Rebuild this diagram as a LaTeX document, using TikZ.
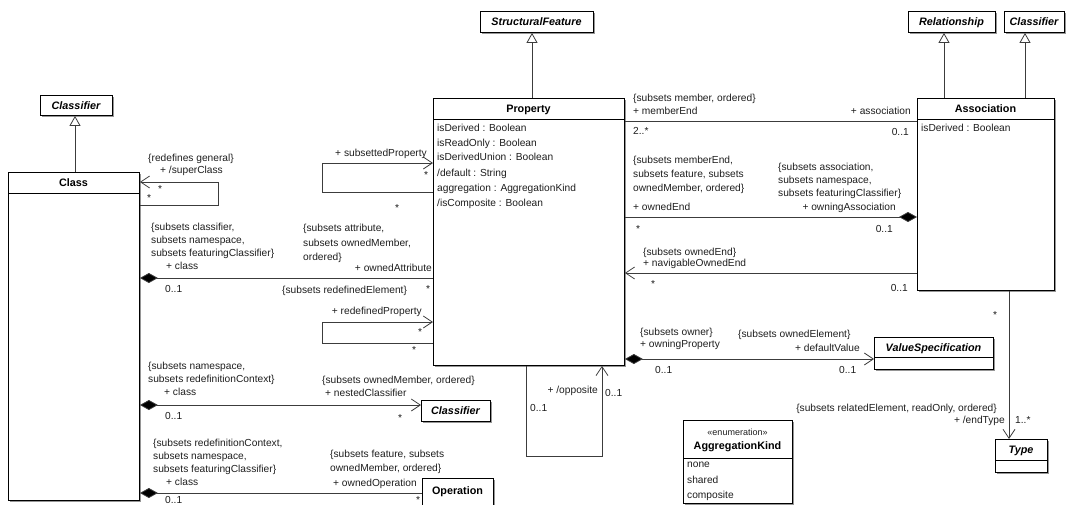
\documentclass[tikz,border=0pt]{standalone}
\usepackage{fontspec}
\setmainfont{Liberation Sans}
\usetikzlibrary{arrows.meta,shadows}

\begin{document}
\begin{tikzpicture}[x=1pt,y=-1pt,
  umlbox/.style={draw=boxcolor,fill=fillcolor,line width=0.9pt,inner sep=0pt,anchor=north west,
    drop shadow={shadow xshift=1.5pt,shadow yshift=-1.5pt,fill=shadowcolor,opacity=1}},
  boxname/.style={inner sep=0pt,anchor=base,text=boxcolor,font=\fontsize{10.8}{13}\selectfont\bfseries},
  absname/.style={boxname,font=\fontsize{10.8}{13}\selectfont\bfseries\itshape},
  lbl/.style={inner sep=0pt,anchor=base west,text=textcolor,font=\fontsize{10.2}{13}\selectfont},
  lblr/.style={lbl,anchor=base east},
  conn/.style={draw=linecolor,line width=0.8pt},
  navarrow/.style={conn,-{Straight Barb[length=9pt,width=12pt]}},
  composite/.style={conn,{Diamond[length=18pt,width=10pt,fill=black]}-},
  compnav/.style={conn,{Diamond[length=18pt,width=10pt,fill=black]}-{Straight Barb[length=9pt,width=12pt]}},
  generalize/.style={conn,-{Triangle[open,length=10pt,width=11pt,fill=white]}}]
\definecolor{fillcolor}{RGB}{255,255,255}
\definecolor{boxcolor}{RGB}{0,0,0}
\definecolor{linecolor}{RGB}{60,60,60}
\definecolor{textcolor}{RGB}{30,30,30}
\definecolor{shadowcolor}{RGB}{150,150,150}
\useasboundingbox (0,0) rectangle (1073,504);
% class boxes
\node[umlbox,minimum width=72pt,minimum height=20pt] (clsTop) at (40,95) {};
\node[absname] (clsTopName) at (76,109) {Classifier};
\node[umlbox,minimum width=131pt,minimum height=328pt] (class) at (8,172) {};
\node[boxname] (className) at (73.5,186) {Class};
\draw[boxcolor,line width=0.9pt] (class.west |- 0,193) -- (class.east |- 0,193);
\node[umlbox,minimum width=113pt,minimum height=21pt] (structFeat) at (480,11) {};
\node[absname] (structFeatName) at (536.5,25.5) {StructuralFeature};
\node[umlbox,minimum width=191pt,minimum height=267pt] (prop) at (433,98) {};
\node[boxname] (propName) at (528.5,112.5) {Property};
\draw[boxcolor,line width=0.9pt] (prop.west |- 0,119) -- (prop.east |- 0,119);
\node[lbl] (propA1) at (437,131.5) {isDerived : Boolean};
\node[lbl] (propA2) at (437,146.5) {isReadOnly : Boolean};
\node[lbl] (propA3) at (437,160.5) {isDerivedUnion : Boolean};
\node[lbl] (propA4) at (437,176.5) {/default : String};
\node[lbl] (propA5) at (437,191.5) {aggregation : AggregationKind};
\node[lbl] (propA6) at (437,206.5) {/isComposite : Boolean};
\node[umlbox,minimum width=87pt,minimum height=21pt] (relShip) at (908,11) {};
\node[absname] (relShipName) at (951.5,25.5) {Relationship};
\node[umlbox,minimum width=60pt,minimum height=21pt] (clsRight) at (1004,11) {};
\node[absname] (clsRightName) at (1034,25.5) {Classifier};
\node[umlbox,minimum width=137pt,minimum height=192pt] (assoc) at (917,98) {};
\node[boxname] (assocName) at (985.5,112.5) {Association};
\draw[boxcolor,line width=0.9pt] (assoc.west |- 0,119) -- (assoc.east |- 0,119);
\node[lbl] (assocA1) at (921,131.5) {isDerived : Boolean};
\node[umlbox,minimum width=119pt,minimum height=32pt] (valueSpec) at (874,337) {};
\node[absname] (valueSpecName) at (933.5,351) {ValueSpecification};
\draw[boxcolor,line width=0.9pt] (valueSpec.west |- 0,357) -- (valueSpec.east |- 0,357);
\node[umlbox,minimum width=52pt,minimum height=33pt] (typeBox) at (995,439) {};
\node[absname] (typeName) at (1021,453.5) {Type};
\draw[boxcolor,line width=0.9pt] (typeBox.west |- 0,460) -- (typeBox.east |- 0,460);
\node[umlbox,minimum width=109pt,minimum height=83pt] (aggKind) at (683,420) {};
\node[lbl,anchor=base,font=\fontsize{9}{11}\selectfont] (aggKindSt) at (737.5,435) {«enumeration»};
\node[boxname] (aggKindName) at (737.5,449) {AggregationKind};
\draw[boxcolor,line width=0.9pt] (aggKind.west |- 0,458) -- (aggKind.east |- 0,458);
\node[lbl] (aggKindL1) at (687,467.5) {none};
\node[lbl] (aggKindL2) at (687,483.5) {shared};
\node[lbl] (aggKindL3) at (687,498.5) {composite};
\node[umlbox,minimum width=69pt,minimum height=21pt] (clsNested) at (421,400) {};
\node[absname] (clsNestedName) at (455.5,414.5) {Classifier};
\node[umlbox,minimum width=71pt,minimum height=34pt] (operation) at (422,478) {};
\node[boxname] (operationName) at (457.5,494) {Operation};
% generalizations
\draw[generalize] (class.north -| 75,0) -- (clsTop.south -| 75,0);
\draw[generalize] (prop.north -| 532,0) -- (structFeat.south -| 532,0);
\draw[generalize] (assoc.north -| 944,0) -- (relShip.south -| 944,0);
\draw[generalize] (assoc.north -| 1025,0) -- (clsRight.south -| 1025,0);
% superClass
\draw[navarrow] (class.east |- 0,205) -- (218,205) -- (218,182) -- (class.east |- 0,182);
\node[lbl] (supC1) at (148,161) {\{redefines general\}};
\node[lbl] (supC2) at (160,173) {+ /superClass};
\node[lbl] (supM1) at (158,192) {*};
\node[lbl] (supM2) at (147,201) {*};
% ownedAttribute
\draw[composite] (class.east |- 0,278) -- (prop.west |- 0,278);
\node[lbl] (attC1) at (151,230.5) {\{subsets classifier,};
\node[lbl] (attC2) at (151,243.5) {subsets namespace,};
\node[lbl] (attC3) at (151,256.5) {subsets featuringClassifier\}};
\node[lbl] (attC4) at (166,269.5) {+ class};
\node[lbl] (attM1) at (165,292.5) {0..1};
\node[lbl] (attP1) at (303,231.5) {\{subsets attribute,};
\node[lbl] (attP2) at (303,246.5) {subsets ownedMember,};
\node[lbl] (attP3) at (303,260.5) {ordered\}};
\node[lblr] (attP4) at (432,271.5) {+ ownedAttribute};
\node[lbl] (attM2) at (426,292) {*};
% subsettedProperty
\draw[navarrow] (prop.west |- 0,192) -- (322,192) -- (322,163) -- (prop.west |- 0,163);
\node[lblr] (subP1) at (427,156.5) {+ subsettedProperty};
\node[lbl] (subM1) at (424,178) {*};
\node[lbl] (subM2) at (395,211) {*};
% redefinedProperty
\draw[navarrow] (prop.west |- 0,343) -- (322,343) -- (322,322) -- (prop.west |- 0,322);
\node[lbl] (redP1) at (282,293.5) {\{subsets redefinedElement\}};
\node[lblr] (redP2) at (422,314.5) {+ redefinedProperty};
\node[lbl] (redM1) at (418,335) {*};
\node[lbl] (redM2) at (412,353) {*};
% nestedClassifier
\draw[compnav] (class.east |- 0,405) -- (clsNested.west |- 0,405);
\node[lbl] (nesC1) at (148,369.5) {\{subsets namespace,};
\node[lbl] (nesC2) at (148,382.5) {subsets redefinitionContext\}};
\node[lbl] (nesC3) at (164,395.5) {+ class};
\node[lbl] (nesM1) at (165,419.5) {0..1};
\node[lbl] (nesP1) at (322,383.5) {\{subsets ownedMember, ordered\}};
\node[lbl] (nesP2) at (325,396.5) {+ nestedClassifier};
\node[lbl] (nesM2) at (398,421) {*};
% ownedOperation
\draw[composite] (class.east |- 0,493) -- (operation.west |- 0,493);
\node[lbl] (opC1) at (153,446.5) {\{subsets redefinitionContext,};
\node[lbl] (opC2) at (153,459.5) {subsets namespace,};
\node[lbl] (opC3) at (153,472.5) {subsets featuringClassifier\}};
\node[lbl] (opC4) at (166,485.5) {+ class};
\node[lbl] (opM1) at (165,503) {0..1};
\node[lbl] (opP1) at (330,457.5) {\{subsets feature, subsets};
\node[lbl] (opP2) at (330,471.5) {ownedMember, ordered\}};
\node[lbl] (opP3) at (333,486.5) {+ ownedOperation};
\node[lbl] (opM2) at (416,503) {*};
% memberEnd
\draw[conn] (prop.east |- 0,121) -- (assoc.west |- 0,121);
\node[lbl] (memP1) at (633,101.5) {\{subsets member, ordered\}};
\node[lbl] (memP2) at (633,114) {+ memberEnd};
\node[lbl] (memM1) at (633,134) {2..*};
\node[lblr] (memA1) at (911,114.5) {+ association};
\node[lblr] (memM2) at (909,135) {0..1};
% ownedEnd
\draw[composite] (assoc.west |- 0,217) -- (prop.east |- 0,217);
\node[lbl] (oeP1) at (633,163.5) {\{subsets memberEnd,};
\node[lbl] (oeP2) at (633,177.5) {subsets feature, subsets};
\node[lbl] (oeP3) at (633,191.5) {ownedMember, ordered\}};
\node[lbl] (oeP4) at (633,210.5) {+ ownedEnd};
\node[lbl] (oeM1) at (636,232) {*};
\node[lbl] (oeA1) at (778,170.5) {\{subsets association,};
\node[lbl] (oeA2) at (778,183.5) {subsets namespace,};
\node[lbl] (oeA3) at (778,196.5) {subsets featuringClassifier\}};
\node[lblr] (oeA4) at (896,210) {+ owningAssociation};
\node[lblr] (oeM2) at (893,232.5) {0..1};
% navigableOwnedEnd
\draw[navarrow] (assoc.west |- 0,273) -- (prop.east |- 0,273);
\node[lbl] (navP1) at (643,255.5) {\{subsets ownedEnd\}};
\node[lbl] (navP2) at (643,266.5) {+ navigableOwnedEnd};
\node[lbl] (navM1) at (651,287) {*};
\node[lblr] (navM2) at (908,291.5) {0..1};
% defaultValue
\draw[compnav] (prop.east |- 0,359) -- (valueSpec.west |- 0,359);
\node[lbl] (defP1) at (640,335.5) {\{subsets owner\}};
\node[lbl] (defP2) at (640,347.5) {+ owningProperty};
\node[lbl] (defM1) at (655,373.5) {0..1};
\node[lbl] (defV1) at (738,337.5) {\{subsets ownedElement\}};
\node[lblr] (defV2) at (860,351.5) {+ defaultValue};
\node[lbl] (defM2) at (839,373.5) {0..1};
% opposite
\draw[navarrow] (prop.south -| 526,0) -- (526,456) -- (602,456) -- (prop.south -| 602,0);
\node[lblr] (oppP1) at (598,393.5) {+ /opposite};
\node[lbl] (oppM1) at (530,411.5) {0..1};
\node[lbl] (oppM2) at (605,396.5) {0..1};
% endType
\draw[navarrow] (assoc.south -| 1009,0) -- (typeBox.north -| 1009,0);
\node[lbl] (endM1) at (993,318) {*};
\node[lblr] (endT1) at (997,411.5) {\{subsets relatedElement, readOnly, ordered\}};
\node[lblr] (endT2) at (1005,423.5) {+ /endType};
\node[lbl] (endM2) at (1015,423.5) {1..*};
\end{tikzpicture}
\end{document}
